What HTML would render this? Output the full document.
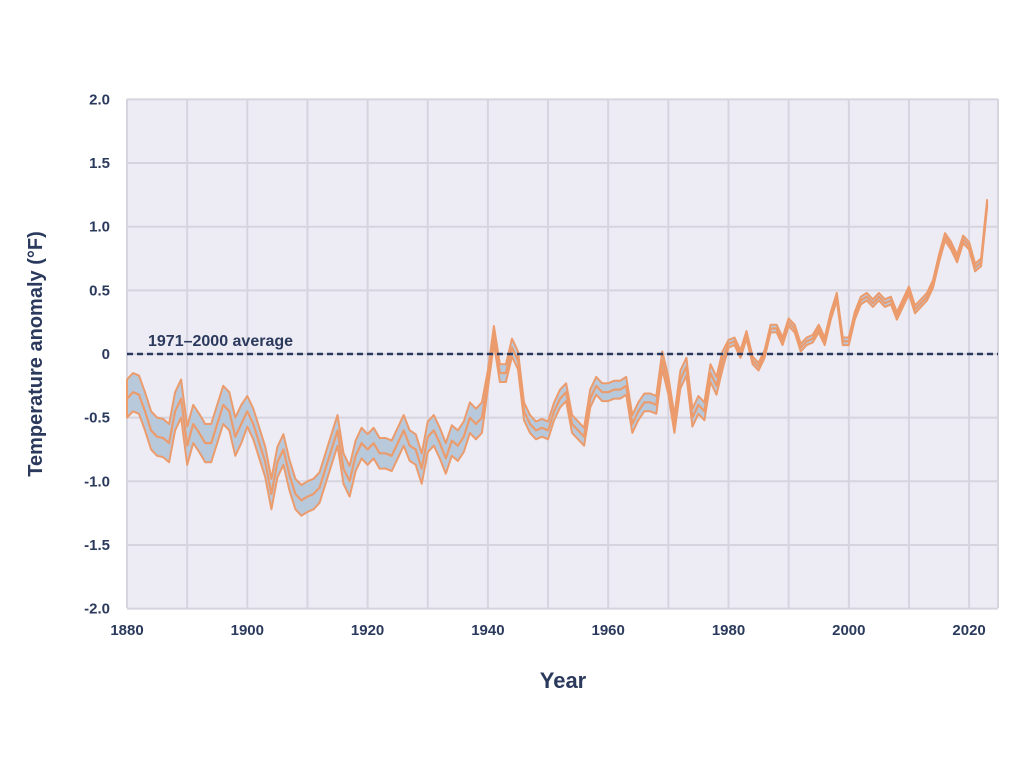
<!DOCTYPE html>
<html><head><meta charset="utf-8"><style>
body{margin:0;background:#fff;width:1024px;height:768px;overflow:hidden}
svg text{font-family:"Liberation Sans",sans-serif;font-weight:bold;fill:#2b3a5c}
</style></head><body>
<svg id="s" width="1024" height="768" xmlns="http://www.w3.org/2000/svg">
<rect x="127" y="99" width="871" height="509" fill="#edecf4"/>
<g id="grid" stroke="#d6d4de" stroke-width="2"></g>
<g id="band"></g>
<line x1="127" y1="354" x2="998" y2="354" stroke="#2b3a5c" stroke-width="2.5" stroke-dasharray="6,4"/>
<text x="148" y="346" font-size="16">1971–2000 average</text>
<g id="lab" font-size="15"></g>
<text x="563" y="688" font-size="22" text-anchor="middle">Year</text>
<text transform="translate(42,354) rotate(-90)" font-size="20" text-anchor="middle">Temperature anomaly (°F)</text>
</svg>
<script>
var X=function(y){return 127+(y-1880)*6.015},Y=function(v){return 354-v*127.3};
var g=document.getElementById('grid'),l=document.getElementById('lab'),h='',t='';
for(var yr=1880;yr<=2020;yr+=10){h+='<line x1="'+X(yr)+'" y1="99" x2="'+X(yr)+'" y2="608"/>';}
h+='<line x1="998" y1="99" x2="998" y2="608"/>';
for(var v=-2;v<=2;v+=0.5){h+='<line x1="127" y1="'+Y(v)+'" x2="998" y2="'+Y(v)+'"/>';
t+='<text x="110" y="'+(Y(v)+5)+'" text-anchor="end">'+(v==0?'0':v.toFixed(1))+'</text>';}
for(var yr=1880;yr<=2020;yr+=20)t+='<text x="'+X(yr)+'" y="635" text-anchor="middle">'+yr+'</text>';
g.innerHTML=h;l.innerHTML=t;
var d=[-0.35,-0.3,-0.32,-0.45,-0.6,-0.65,-0.66,-0.7,-0.45,-0.35,-0.72,-0.55,-0.62,-0.7,-0.7,-0.55,-0.4,-0.45,-0.65,-0.55,
-0.45,-0.55,-0.7,-0.85,-1.1,-0.85,-0.75,-0.95,-1.1,-1.15,-1.12,-1.1,-1.05,-0.9,-0.75,-0.6,-0.9,-1.0,-0.8,-0.7,
-0.75,-0.7,-0.78,-0.78,-0.8,-0.7,-0.6,-0.72,-0.75,-0.9,-0.65,-0.6,-0.7,-0.82,-0.68,-0.72,-0.65,-0.5,-0.55,-0.5,
-0.2,0.15,-0.15,-0.15,0.05,-0.05,-0.45,-0.55,-0.6,-0.58,-0.6,-0.45,-0.35,-0.3,-0.55,-0.6,-0.65,-0.35,-0.25,-0.3,
-0.3,-0.28,-0.28,-0.25,-0.55,-0.45,-0.38,-0.38,-0.4,-0.05,-0.25,-0.55,-0.2,-0.1,-0.5,-0.4,-0.45,-0.15,-0.25,-0.05,
0.08,0.1,0.0,0.15,-0.05,-0.1,0.0,0.2,0.2,0.1,0.25,0.2,0.05,0.1,0.12,0.2,0.1,0.3,0.45,0.1,
0.1,0.3,0.42,0.45,0.4,0.45,0.4,0.42,0.3,0.4,0.5,0.35,0.4,0.45,0.55,0.75,0.92,0.85,0.75,0.9,0.85,0.68,0.72,1.18];
function hw(yr){return yr<1900?0.15:yr<1940?0.12:yr<1980?0.07:0.03}
var up=[],dn=[],c=[];
for(var i=0;i<d.length;i++){var yr=1880+i;up.push(X(yr).toFixed(1)+','+Y(d[i]+hw(yr)).toFixed(1));dn.unshift(X(yr).toFixed(1)+','+Y(d[i]-hw(yr)).toFixed(1));c.push(X(yr).toFixed(1)+','+Y(d[i]).toFixed(1));}
document.getElementById('band').innerHTML=
'<polygon points="'+up.join(' ')+' '+dn.join(' ')+'" fill="#b9c9dc" stroke="#eb9b6c" stroke-width="2" stroke-linejoin="round"/>'+
'<polyline points="'+c.join(' ')+'" fill="none" stroke="#eb9b6c" stroke-width="2.2" stroke-linejoin="round"/>';
</script>
</body></html>
